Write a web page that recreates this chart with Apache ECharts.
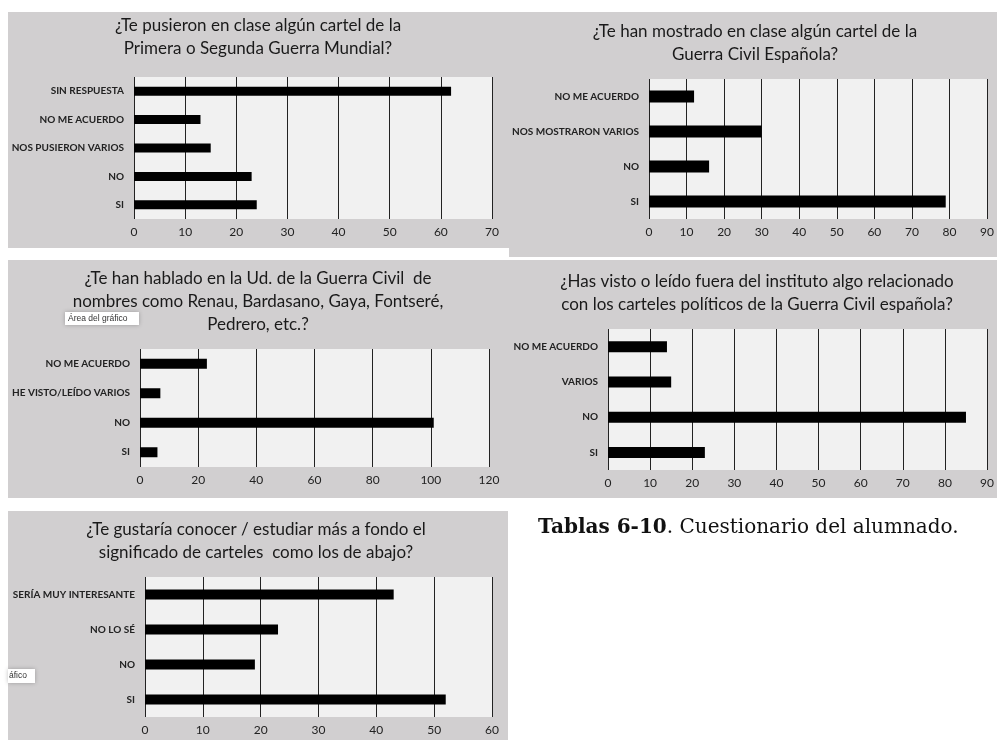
<!DOCTYPE html>
<html>
<head>
  <meta charset="UTF-8">
  <title>Cuestionario del alumnado</title>
  <script src="https://cdn.jsdelivr.net/npm/echarts@6/dist/echarts.min.js"></script>
  <style>
    html, body {
      margin: 0;
      width: 100%;
      height: 100%;
      background: #fff;
    }
    #main {
      width: 997px;
      height: 740px;
    }
  </style>
</head>
<body>
  <div id="main"></div>
  <script>
    // preguntas
    const titles = [
      '¿Te pusieron en clase algún cartel de la\nPrimera o Segunda Guerra Mundial?',
      '¿Te han mostrado en clase algún cartel de la\nGuerra Civil Española?',
      '¿Te han hablado en la Ud. de la Guerra Civil  de\nnombres como Renau, Bardasano, Gaya, Fontseré,\nPedrero, etc.?',
      '¿Has visto o leído fuera del instituto algo relacionado\ncon los carteles políticos de la Guerra Civil española?',
      '¿Te gustaría conocer / estudiar más a fondo el\nsignificado de carteles  como los de abajo?'
    ];

    // respuestas (de arriba a abajo) y valores
    const cats1 = ['SIN RESPUESTA', 'NO ME ACUERDO', 'NOS PUSIERON VARIOS', 'NO', 'SI'];
    const vals1 = [62, 13, 15, 23, 24];

    const cats2 = ['NO ME ACUERDO', 'NOS MOSTRARON VARIOS', 'NO', 'SI'];
    const vals2 = [12, 30, 16, 79];

    const cats3 = ['NO ME ACUERDO', 'HE VISTO/LEÍDO VARIOS', 'NO', 'SI'];
    const vals3 = [23, 7, 101, 6];

    const cats4 = ['NO ME ACUERDO', 'VARIOS', 'NO', 'SI'];
    const vals4 = [14, 15, 85, 23];

    const cats5 = ['SERÍA MUY INTERESANTE', 'NO LO SÉ', 'NO', 'SI'];
    const vals5 = [43, 23, 19, 52];

    const axisMax = [70, 90, 120, 90, 60];
    const axisStep = [10, 10, 20, 10, 10];

    const caption = 'Tablas 6-10';
    const captionRest = '. Cuestionario del alumnado.';

    // maquetación
    const boxes = [[8, 12, 501, 236], [509, 12, 488, 245], [8, 260, 500, 238], [508, 260, 489, 238], [8, 511, 500, 229]];
    const grids = [[134, 77, 358, 142], [649, 79, 340, 140], [140, 349, 349, 118], [608, 329, 382, 141], [145, 577, 347, 140]];
    const titlePos = [[258, 14], [755, 20], [258, 267], [757, 270], [256, 518]];
    const barW = [9, 12, 10, 11, 10];

    const allCats = [cats1, cats2, cats3, cats4, cats5];
    const allVals = [vals1, vals2, vals3, vals4, vals5];

    const font = 'Lato, "Open Sans", sans-serif';
    const panelGrey = '#d1cfd0';
    const plotGrey = '#f1f1f1';

    const option = {
      backgroundColor: '#fff',
      animation: false,
      title: [],
      grid: [],
      xAxis: [],
      yAxis: [],
      series: [],
      graphic: []
    };

    boxes.forEach((b, i) => {
      option.graphic.push({
        type: 'rect', z: -10,
        shape: { x: b[0], y: b[1], width: b[2], height: b[3] },
        style: { fill: panelGrey }
      });

      option.title.push({
        text: titles[i],
        left: titlePos[i][0],
        top: titlePos[i][1],
        textAlign: 'center',
        padding: 0,
        textStyle: {
          fontFamily: font,
          fontSize: 17,
          lineHeight: 23,
          fontWeight: 'normal',
          color: '#1a1a1a'
        }
      });

      const g = grids[i];
      option.grid.push({
        left: g[0], top: g[1], width: g[2], height: g[3],
        show: true, backgroundColor: plotGrey, borderWidth: 0
      });

      option.xAxis.push({
        type: 'value', gridIndex: i,
        min: 0, max: axisMax[i], interval: axisStep[i],
        axisLine: { show: false },
        axisTick: { show: false },
        splitLine: { show: true, lineStyle: { color: '#222', width: 1 } },
        axisLabel: { fontFamily: font, fontSize: 12, color: '#222', margin: 7 }
      });

      option.yAxis.push({
        type: 'category', gridIndex: i, inverse: true,
        data: allCats[i],
        axisLine: { show: false },
        axisTick: { show: false },
        axisLabel: { fontFamily: font, fontSize: 10, fontWeight: 'bold', color: '#222', margin: 10 }
      });

      option.series.push({
        type: 'bar', xAxisIndex: i, yAxisIndex: i,
        data: allVals[i],
        barWidth: barW[i],
        itemStyle: { color: '#000' }
      });
    });

    // etiquetas emergentes de Excel que aparecen en la captura
    option.graphic.push({
      type: 'group', z: 10,
      children: [
        { type: 'rect', shape: { x: 65, y: 312, width: 74, height: 13 },
          style: { fill: '#fff', shadowBlur: 4, shadowColor: 'rgba(0,0,0,0.25)' } },
        { type: 'text', x: 68, y: 318.5,
          style: { text: 'Área del gráfico', font: '8.5px "Liberation Sans", sans-serif', fill: '#333', verticalAlign: 'middle' } }
      ]
    });
    option.graphic.push({
      type: 'group', z: 10,
      children: [
        { type: 'rect', shape: { x: 8, y: 669, width: 27, height: 14 },
          style: { fill: '#fff', shadowBlur: 4, shadowColor: 'rgba(0,0,0,0.25)' } },
        { type: 'text', x: 9, y: 676,
          style: { text: 'áfico', font: '8.5px "Liberation Sans", sans-serif', fill: '#333', verticalAlign: 'middle' } }
      ]
    });

    // pie de tabla
    option.graphic.push({
      type: 'text', left: 538, top: 518,
      style: {
        text: '{b|' + caption + '}' + captionRest,
        font: '20px "DejaVu Serif", serif',
        fill: '#111',
        rich: { b: { font: 'bold 20px "DejaVu Serif", serif', fill: '#111' } }
      }
    });

    const chart = echarts.init(document.getElementById('main'));
    chart.setOption(option);
  </script>
</body>
</html>
